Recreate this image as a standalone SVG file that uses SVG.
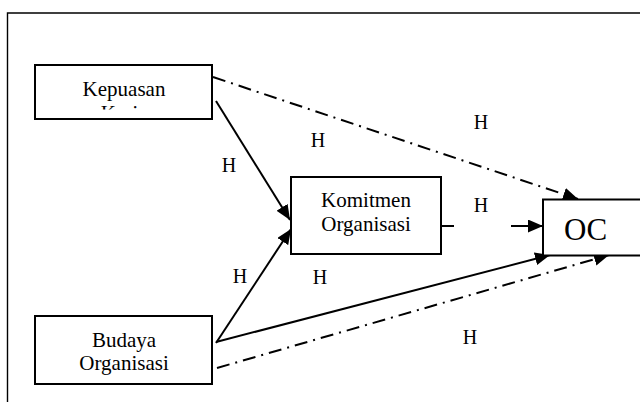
<svg xmlns="http://www.w3.org/2000/svg" width="640" height="402" viewBox="0 0 640 402">
<style>
.box{fill:#fff;stroke:#000;stroke-width:2}
text{font-family:'Liberation Serif','Times New Roman',Times,serif;fill:#000}
.lbl{font-size:21px;text-anchor:middle}
.h{font-size:20px;text-anchor:middle}
.ln{fill:none;stroke:#000;stroke-width:2}
.dd{stroke-dasharray:13 6 2 6}
</style>
<defs>
<marker id="ah" markerUnits="userSpaceOnUse" markerWidth="16" markerHeight="14" refX="15" refY="6.5" orient="auto">
<path d="M0,0 L15,6.5 L0,13 z" fill="#000"/>
</marker>
<clipPath id="kclip"><rect x="36" y="66" width="175" height="43.5"/></clipPath>
</defs>
<rect width="640" height="402" fill="#fff"/>
<path d="M7.5,402 V13 H640" fill="none" stroke="#000" stroke-width="1.4"/>
<g id="connectors">
<path class="ln dd" d="M213,77 L578,199" marker-end="url(#ah)"/>
<path class="ln" d="M216,101 L290,220" marker-end="url(#ah)"/>
<path class="ln" d="M216,343 L291,229" marker-end="url(#ah)"/>
<path class="ln" d="M441,226 H454"/>
<path class="ln" d="M511,226 H543" marker-end="url(#ah)"/>
<path class="ln" d="M216,342 L550,255" marker-end="url(#ah)"/>
<path class="ln dd" d="M217,368 L609,255" marker-end="url(#ah)"/>
<text class="h" x="229" y="172" font-family="Liberation Serif, serif">H</text>
<text class="h" x="318" y="147" font-family="Liberation Serif, serif">H</text>
<text class="h" x="481" y="129" font-family="Liberation Serif, serif">H</text>
<text class="h" x="481" y="212" font-family="Liberation Serif, serif">H</text>
<text class="h" x="240" y="283" font-family="Liberation Serif, serif">H</text>
<text class="h" x="320" y="284" font-family="Liberation Serif, serif">H</text>
<text class="h" x="470" y="344" font-family="Liberation Serif, serif">H</text>
</g>
<g id="kepuasan">
<rect class="box" x="35" y="65" width="177" height="54"/>
<text class="lbl" x="124" y="96" font-family="Liberation Serif, serif">Kepuasan</text>
<text class="lbl" x="124" y="120" font-family="Liberation Serif, serif" clip-path="url(#kclip)">Kerja</text>
</g>
<g id="komitmen">
<rect class="box" x="291" y="177" width="150" height="77"/>
<text class="lbl" x="366" y="207" font-family="Liberation Serif, serif">Komitmen</text>
<text class="lbl" x="366" y="231" font-family="Liberation Serif, serif">Organisasi</text>
</g>
<g id="budaya">
<rect class="box" x="35" y="316" width="177" height="68"/>
<text class="lbl" x="124" y="347" font-family="Liberation Serif, serif">Budaya</text>
<text class="lbl" x="124" y="370" font-family="Liberation Serif, serif">Organisasi</text>
</g>
<g id="oc">
<rect class="box" x="543" y="199.5" width="100" height="56"/>
<text x="564" y="240" font-family="Liberation Serif, serif" font-size="31">OC</text>
</g>
</svg>
